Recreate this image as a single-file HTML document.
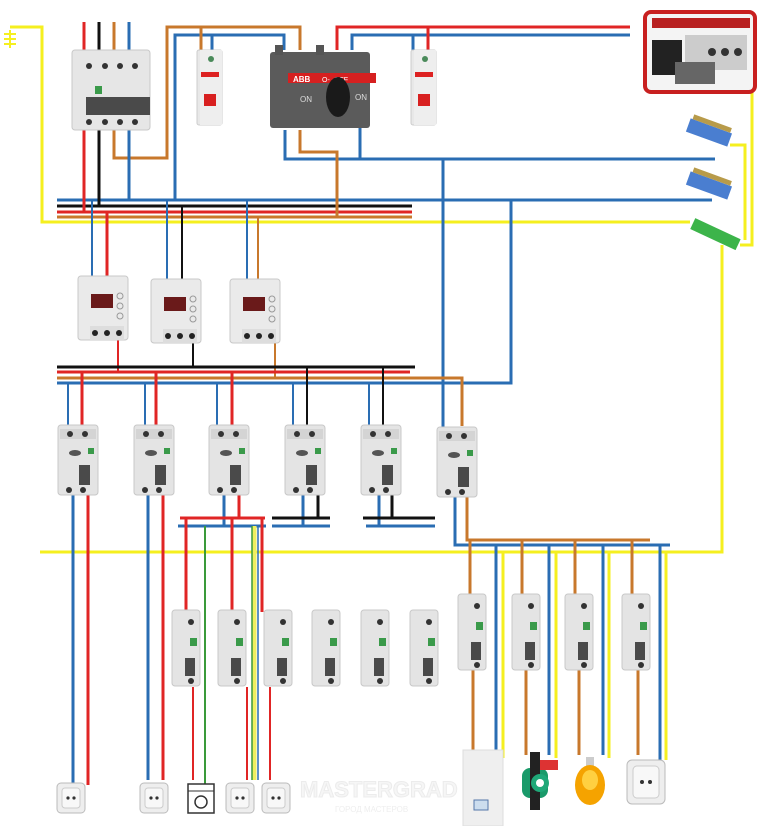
<!DOCTYPE html>
<html><head><meta charset="utf-8"><style>
html,body{margin:0;padding:0;background:#fff;}
svg{display:block;}
text{font-family:"Liberation Sans",sans-serif;}
</style></head><body>
<svg width="763" height="826" viewBox="0 0 763 826" xmlns="http://www.w3.org/2000/svg">
<defs>
<g id="rcbo">
<rect x="0" y="0" width="40" height="70" rx="3" fill="#e4e4e4" stroke="#c8c8c8"/>
<rect x="2" y="4" width="36" height="10" fill="#d4d4d4"/>
<circle cx="12" cy="9" r="3" fill="#333"/><circle cx="27" cy="9" r="3" fill="#333"/>
<ellipse cx="17" cy="28" rx="6" ry="3" fill="#555"/>
<rect x="30" y="23" width="6" height="6" fill="#3a9a4a"/>
<rect x="21" y="40" width="11" height="20" fill="#4a4a4a"/>
<circle cx="11" cy="65" r="3" fill="#333"/><circle cx="25" cy="65" r="3" fill="#333"/>
</g>
<g id="mcb">
<rect x="0" y="0" width="28" height="76" rx="3" fill="#e4e4e4" stroke="#c8c8c8"/>
<circle cx="19" cy="12" r="3" fill="#333"/>
<rect x="18" y="28" width="7" height="8" fill="#3a9a4a"/>
<rect x="13" y="48" width="10" height="18" fill="#4a4a4a"/>
<circle cx="19" cy="71" r="3" fill="#333"/>
</g>
<g id="relay">
<rect x="0" y="0" width="50" height="64" rx="3" fill="#eaeaea" stroke="#c8c8c8"/>
<rect x="13" y="18" width="22" height="14" fill="#6a1a1a"/>
<circle cx="42" cy="20" r="3" fill="none" stroke="#999"/><circle cx="42" cy="30" r="3" fill="none" stroke="#999"/><circle cx="42" cy="40" r="3" fill="none" stroke="#999"/>
<rect x="12" y="50" width="34" height="14" fill="#ddd"/>
<circle cx="17" cy="57" r="3" fill="#222"/><circle cx="29" cy="57" r="3" fill="#222"/><circle cx="41" cy="57" r="3" fill="#222"/>
</g>
<g id="sock">
<rect x="0" y="0" width="28" height="30" rx="4" fill="#eee" stroke="#bbb"/>
<rect x="5" y="5" width="18" height="20" rx="3" fill="#f8f8f8" stroke="#ccc"/>
<circle cx="11" cy="15" r="1.6" fill="#333"/><circle cx="17" cy="15" r="1.6" fill="#333"/>
</g>
</defs>
<g fill="none" stroke-width="3">
<path d="M10,27 H42 V222 H690" stroke="#f5ef1f"/>
<path d="M10,30 V48 M4,34 H16 M4,39 H16 M4,44 H16" stroke="#f5ef1f" stroke-width="2"/>
<path d="M57,200 H712" stroke="#2a6db3"/>
<path d="M57,206 H412" stroke="#111"/>
<path d="M57,212 H412" stroke="#e02525"/>
<path d="M57,217 H412" stroke="#c8782c"/>
<path d="M84,22 V50 M84,130 V212" stroke="#e02525"/>
<path d="M99,22 V50 M99,130 V206" stroke="#111"/>
<path d="M114,22 V50 M114,130 V158 H167 V27 H300 V50" stroke="#c8782c"/>
<path d="M129,22 V50 M129,130 V200" stroke="#2a6db3"/>
<path d="M175,200 V35 H284 V50" stroke="#2a6db3"/>
<path d="M201,27 V52" stroke="#c8782c"/>
<path d="M212,35 V52" stroke="#2a6db3"/>
<path d="M337,50 V27 H630" stroke="#e02525"/>
<path d="M352,50 V35 H630" stroke="#2a6db3"/>
<path d="M413,35 V52" stroke="#2a6db3"/><path d="M428,27 V52" stroke="#e02525"/>
<path d="M285,130 V159 H715" stroke="#2a6db3"/>
<path d="M300,130 V152 H337 V217" stroke="#c8782c"/>
<path d="M360,128 V158" stroke="#2a6db3"/>
<path d="M443,159 V440" stroke="#2a6db3"/>
<path d="M511,200 V383 H57" stroke="#2a6db3"/>
<path d="M752,88 V245 H740 M730,145 H745 V240" stroke="#f5ef1f"/>
<path d="M722,245 V552 H40" stroke="#f5ef1f"/>
<path d="M92,200 V276" stroke="#2a6db3" stroke-width="2"/><path d="M107,212 V276" stroke="#e02525"/>
<path d="M118,340 V372" stroke="#e02525" stroke-width="2"/>
<path d="M167,200 V279" stroke="#2a6db3" stroke-width="2"/><path d="M182,206 V279" stroke="#111" stroke-width="2"/>
<path d="M193,342 V367" stroke="#111" stroke-width="2"/>
<path d="M247,200 V279" stroke="#2a6db3" stroke-width="2"/><path d="M258,217 V279" stroke="#c8782c" stroke-width="2"/>
<path d="M275,342 V378" stroke="#c8782c" stroke-width="2"/>
<path d="M57,367 H415" stroke="#111"/>
<path d="M57,372 H410" stroke="#e02525"/>
<path d="M57,378 H462 V426" stroke="#c8782c"/>
<path d="M68,383 V426 M145,383 V426 M217,383 V426 M293,383 V426 M369,383 V426" stroke="#2a6db3" stroke-width="2"/>
<path d="M82,372 V426 M156,372 V426 M232,372 V426" stroke="#e02525"/>
<path d="M307,367 V426 M383,367 V426" stroke="#111" stroke-width="2"/>
<path d="M73,495 V785 M148,495 V780" stroke="#2a6db3"/>
<path d="M88,495 V785 M163,495 V780" stroke="#e02525"/>
<path d="M224,495 V526 M178,526 H266" stroke="#2a6db3"/>
<path d="M239,495 V518 M180,518 H265" stroke="#e02525"/>
<path d="M303,495 V526 M272,526 H330 M366,526 H435 M379,495 V526" stroke="#2a6db3"/>
<path d="M318,495 V518 M272,518 H330 M363,518 H435 M392,495 V518" stroke="#111"/>
<path d="M455,495 V545 H670" stroke="#2a6db3"/>
<path d="M467,495 V540 H650" stroke="#c8782c"/>
<path d="M186,518 V612 M232,518 V612 M262,518 V612" stroke="#e02525"/>
<path d="M193,687 V780 M247,687 V780 M270,687 V780" stroke="#e02525" stroke-width="2"/>
<path d="M205,526 V785" stroke="#3a9a3a" stroke-width="2"/>
<path d="M254,526 V780" stroke="#f0ee60" stroke-width="5"/>
<path d="M252,526 V780" stroke="#3a9a3a" stroke-width="1.5"/>
<path d="M258,526 V780" stroke="#2a6db3" stroke-width="1.5"/>
<path d="M470,540 V597 M522,540 V597 M575,540 V597 M632,540 V597" stroke="#c8782c"/>
<path d="M473,670 V750 M526,670 V755 M579,670 V755 M638,670 V755" stroke="#c8782c"/>
<path d="M496,545 V755 M549,545 V755 M603,545 V755 M660,545 V760" stroke="#2a6db3"/>
<path d="M503,552 V758 M556,552 V758 M609,552 V758 M666,552 V760" stroke="#f5ef1f"/>
</g>
<rect x="72" y="50" width="78" height="80" rx="3" fill="#e6e6e6" stroke="#c8c8c8"/>
<circle cx="89" cy="66" r="3" fill="#333"/><circle cx="105" cy="66" r="3" fill="#333"/><circle cx="120" cy="66" r="3" fill="#333"/><circle cx="135" cy="66" r="3" fill="#333"/>
<rect x="95" y="86" width="7" height="8" fill="#3a9a4a"/>
<rect x="86" y="97" width="64" height="18" fill="#4a4a4a"/>
<circle cx="89" cy="122" r="3" fill="#333"/><circle cx="105" cy="122" r="3" fill="#333"/><circle cx="120" cy="122" r="3" fill="#333"/><circle cx="135" cy="122" r="3" fill="#333"/>
<g transform="translate(197,50)"><rect width="25" height="75" rx="2" fill="#e8e8e8" stroke="#ccc"/><rect x="3" y="0" width="22" height="75" fill="#eee"/><circle cx="14" cy="9" r="3" fill="#4a8a5a"/><rect x="4" y="22" width="18" height="5" fill="#d22"/><rect x="7" y="44" width="12" height="12" fill="#d82020"/></g>
<g transform="translate(411,50)"><rect width="25" height="75" rx="2" fill="#e8e8e8" stroke="#ccc"/><rect x="3" y="0" width="22" height="75" fill="#eee"/><circle cx="14" cy="9" r="3" fill="#4a8a5a"/><rect x="4" y="22" width="18" height="5" fill="#d22"/><rect x="7" y="44" width="12" height="12" fill="#d82020"/></g>
<rect x="270" y="52" width="100" height="76" rx="3" fill="#5b5b5b"/>
<rect x="275" y="45" width="8" height="10" fill="#555"/><rect x="316" y="45" width="8" height="10" fill="#555"/>
<rect x="288" y="73" width="88" height="10" fill="#d62020"/>
<text x="293" y="82" font-size="8" fill="#fff" font-weight="bold">ABB</text>
<text x="322" y="82" font-size="7" fill="#fff">O-  -OFF</text>
<ellipse cx="338" cy="97" rx="12" ry="20" fill="#1a1a1a"/>
<text x="300" y="102" font-size="8" fill="#ddd">ON</text><text x="355" y="100" font-size="8" fill="#ddd">ON</text>
<rect x="645" y="12" width="110" height="80" rx="6" fill="#f4f4f4" stroke="#c82020" stroke-width="4"/>
<rect x="652" y="18" width="98" height="10" fill="#b82020"/>
<rect x="652" y="40" width="30" height="35" fill="#222"/>
<rect x="685" y="35" width="62" height="35" fill="#ccc"/>
<rect x="675" y="62" width="40" height="22" fill="#666"/>
<circle cx="712" cy="52" r="4" fill="#333"/><circle cx="725" cy="52" r="4" fill="#333"/><circle cx="738" cy="52" r="4" fill="#333"/>
<g transform="rotate(20 707 135)"><rect x="686" y="125" width="44" height="14" fill="#4a7ed0"/><rect x="688" y="120" width="40" height="5" fill="#b89b4a"/></g>
<g transform="rotate(20 707 188)"><rect x="686" y="178" width="44" height="14" fill="#4a7ed0"/><rect x="688" y="173" width="40" height="5" fill="#b89b4a"/></g>
<g transform="rotate(25 715 235)"><rect x="690" y="228" width="50" height="12" fill="#3cb44a"/></g>
<use href="#relay" x="78" y="276"/><use href="#relay" x="151" y="279"/><use href="#relay" x="230" y="279"/>
<use href="#rcbo" x="58" y="425"/><use href="#rcbo" x="134" y="425"/><use href="#rcbo" x="209" y="425"/>
<use href="#rcbo" x="285" y="425"/><use href="#rcbo" x="361" y="425"/><use href="#rcbo" x="437" y="427"/>
<use href="#mcb" x="172" y="610"/><use href="#mcb" x="218" y="610"/><use href="#mcb" x="264" y="610"/>
<use href="#mcb" x="312" y="610"/><use href="#mcb" x="361" y="610"/><use href="#mcb" x="410" y="610"/>
<use href="#mcb" x="458" y="594"/><use href="#mcb" x="512" y="594"/><use href="#mcb" x="565" y="594"/><use href="#mcb" x="622" y="594"/>
<use href="#sock" x="57" y="783"/><use href="#sock" x="140" y="783"/><use href="#sock" x="226" y="783"/><use href="#sock" x="262" y="783"/>
<rect x="188" y="784" width="26" height="29" fill="#fff" stroke="#333" stroke-width="1.5"/>
<line x1="188" y1="791" x2="214" y2="791" stroke="#333"/><circle cx="201" cy="802" r="6" fill="none" stroke="#333" stroke-width="1.5"/>
<text x="300" y="797" font-size="22" font-weight="bold" fill="#f6f6f6" stroke="#ececec">MASTERGRAD</text>
<text x="335" y="812" font-size="8" fill="#eeeeee">ГОРОД МАСТЕРОВ</text>
<rect x="463" y="750" width="40" height="76" fill="#efefef" stroke="#ddd"/><rect x="474" y="800" width="14" height="10" fill="#cde" stroke="#57a"/>
<rect x="522" y="768" width="26" height="30" rx="8" fill="#1a9a6a"/><rect x="530" y="752" width="10" height="58" fill="#222"/><rect x="540" y="760" width="18" height="10" fill="#d33"/>
<circle cx="540" cy="783" r="9" fill="#1fa878"/><circle cx="540" cy="783" r="4" fill="#fff"/>
<rect x="586" y="757" width="8" height="10" fill="#ccc"/>
<ellipse cx="590" cy="785" rx="15" ry="20" fill="#f5a300"/><ellipse cx="590" cy="780" rx="8" ry="10" fill="#ffd040"/>
<g transform="translate(627,760)"><rect width="38" height="44" rx="5" fill="#eee" stroke="#bbb"/><rect x="6" y="6" width="26" height="32" rx="4" fill="#f8f8f8" stroke="#ccc"/><circle cx="15" cy="22" r="2" fill="#333"/><circle cx="23" cy="22" r="2" fill="#333"/></g>
</svg>
</body></html>
